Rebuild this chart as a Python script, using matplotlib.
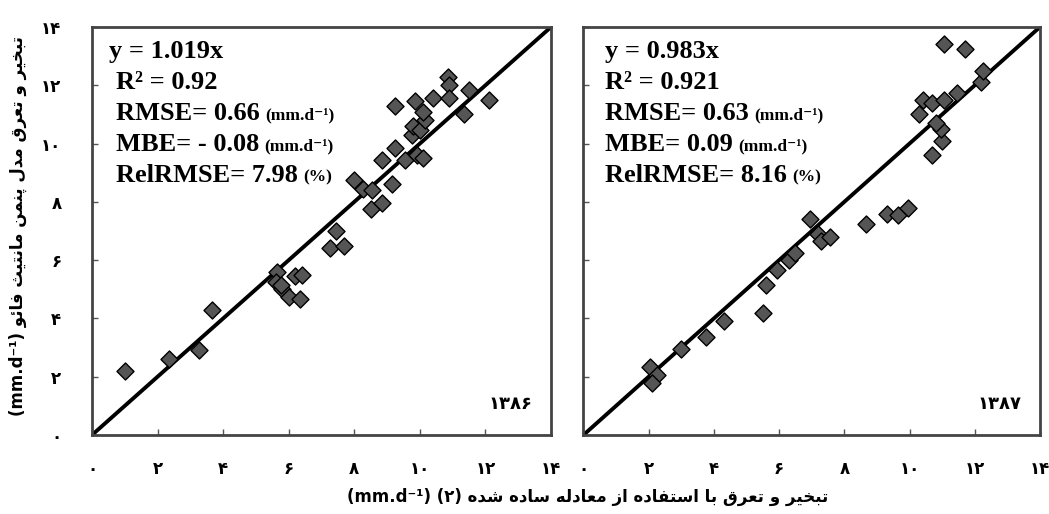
import matplotlib
matplotlib.use('Agg')
import matplotlib.pyplot as plt

# ET from simplified equation (x) vs FAO Penman-Monteith (y), mm/day
x86 = [1.0, 2.35, 3.25, 3.65, 5.65, 5.6, 5.8, 6.0, 6.2, 6.4, 6.35, 5.75,
       7.45, 7.25, 7.7, 8.5, 8.85, 8.0, 8.25, 8.55, 9.15, 8.85, 9.25, 9.55,
       9.9, 10.1, 9.75, 9.8, 10.0, 10.15, 10.1, 9.25, 9.85, 10.4, 10.85,
       10.9, 11.5, 12.1, 11.35, 10.9]
y86 = [2.2, 2.6, 2.9, 4.3, 5.6, 5.25, 5.0, 4.75, 5.45, 5.5, 4.65, 5.15,
       7.0, 6.4, 6.5, 7.75, 7.95, 8.75, 8.45, 8.4, 8.6, 9.45, 9.85, 9.45,
       9.6, 9.5, 10.3, 10.6, 10.45, 10.8, 11.1, 11.3, 11.45, 11.55, 12.3,
       12.0, 11.85, 11.5, 11.0, 11.55]

x87 = [2.05, 2.25, 2.1, 3.0, 3.75, 4.3, 5.5, 5.6, 5.95, 6.3, 6.5, 6.95,
       7.2, 7.3, 7.55, 8.65, 9.3, 9.65, 9.95, 10.7, 11.0, 10.95, 10.8, 10.3,
       10.4, 10.7, 11.05, 11.45, 12.2, 12.25, 11.05, 11.7]
y87 = [2.35, 2.05, 1.8, 2.95, 3.35, 3.9, 4.2, 5.15, 5.65, 6.0, 6.25, 7.4,
       6.9, 6.65, 6.8, 7.25, 7.6, 7.55, 7.8, 9.6, 10.1, 10.5, 10.7, 11.0,
       11.5, 11.4, 11.5, 11.75, 12.1, 12.5, 13.4, 13.25]

stats86 = ['y = 1.019x', 'R² = 0.92', 'RMSE= 0.66', 'MBE= - 0.08', 'RelRMSE= 7.98']
stats87 = ['y = 0.983x', 'R² = 0.921', 'RMSE= 0.63', 'MBE= 0.09', 'RelRMSE= 8.16']
units = ['', '', '(mm.d⁻¹)', '(mm.d⁻¹)', '(%)']
years = ['۱۳۸۶', '۱۳۸۷']
ticks = [0, 2, 4, 6, 8, 10, 12, 14]
tick_labels = ['۰', '۲', '۴', '۶', '۸', '۱۰', '۱۲', '۱۴']
xlabel_fa = 'تبخیر و تعرق با استفاده از معادله ساده شده'
ylabel_fa = 'تبخیر و تعرق مدل پنمن مانتیث فائو'

# first presentation form code and number of forms (iso, fin, ini, med)
forms = {'ا': (0xFE8D, 2), 'ب': (0xFE8F, 4), 'پ': (0xFB56, 4), 'ت': (0xFE95, 4),
         'ث': (0xFE99, 4), 'خ': (0xFEA5, 4), 'د': (0xFEA9, 2), 'ر': (0xFEAD, 2),
         'ز': (0xFEAF, 2), 'س': (0xFEB1, 4), 'ش': (0xFEB5, 4), 'ع': (0xFEC9, 4),
         'ف': (0xFED1, 4), 'ق': (0xFED5, 4), 'ل': (0xFEDD, 4), 'م': (0xFEE1, 4),
         'ن': (0xFEE5, 4), 'ه': (0xFEE9, 4), 'و': (0xFEED, 2), 'ی': (0xFBFC, 4),
         'ئ': (0xFE89, 4)}


def rtl(text):
    # join letters by hand and put them in visual order (no bidi in matplotlib)
    out = []
    for i, ch in enumerate(text):
        if ch not in forms:
            out.append(ch)
            continue
        prev = text[i - 1] if i > 0 else ''
        nxt = text[i + 1] if i < len(text) - 1 else ''
        jp = prev in forms and forms[prev][1] == 4
        jn = nxt in forms and forms[ch][1] == 4
        base = forms[ch][0]
        if jp and jn:
            out.append(chr(base + 3))
        elif jp:
            out.append(chr(base + 1))
        elif jn:
            out.append(chr(base + 2))
        else:
            out.append(chr(base))
    return ''.join(reversed(out))


fa = ['DejaVu Sans']
serif = ['Liberation Serif', 'DejaVu Serif']

fig = plt.figure(figsize=(10.49, 5.14), dpi=100)
ax1 = fig.add_axes([0.0877, 0.1537, 0.4376, 0.7938])
ax2 = fig.add_axes([0.5562, 0.1537, 0.4352, 0.7938])

panels = [(ax1, x86, y86, stats86, years[0], 0.037, 0.052),
          (ax2, x87, y87, stats87, years[1], 0.047, 0.047)]

for ax, xs, ys, stats, year, x0, x1 in panels:
    ax.plot([0, 14], [0, 14], color='black', lw=2.8, zorder=2)
    ax.scatter(xs, ys, marker='D', s=75, facecolor='#555555',
               edgecolor='black', linewidth=1.0, zorder=3)
    ax.set_xlim(0, 14)
    ax.set_ylim(0, 14)
    ax.set_xticks(ticks)
    ax.set_yticks(ticks)
    ax.set_xticklabels(tick_labels, family=fa, weight='bold', fontsize=12)
    ax.set_yticklabels(tick_labels, family=fa, weight='bold', fontsize=12)
    ax.tick_params(direction='in', length=4, width=1, color='#555555')
    ax.tick_params(axis='x', pad=18)
    ax.tick_params(axis='y', pad=22)
    for s in ax.spines.values():
        s.set_linewidth(2)
        s.set_color('#444444')

    ypos = [0.941, 0.864, 0.787, 0.711, 0.635]
    for i, (st, un) in enumerate(zip(stats, units)):
        t = ax.text(x0 if i == 0 else x1, ypos[i], st, transform=ax.transAxes,
                    family=serif, weight='bold', fontsize=19, va='center', ha='left')
        if un:
            ax.annotate(un, xy=(1, 0.42), xycoords=t, xytext=(4, 0),
                        textcoords='offset points', family=serif, weight='bold',
                        fontsize=12.5, va='center', ha='left')
    ax.text(0.96, 0.075, year, transform=ax.transAxes, family=fa, weight='bold',
            fontsize=13, ha='right', va='center')

ax2.tick_params(axis='y', labelleft=False)

fig.text(0.56, 0.033, '(mm.d⁻¹) (۲) ' + rtl(xlabel_fa), family=fa, weight='bold',
         fontsize=12, ha='center', va='center')
fig.text(0.017, 0.56, '(mm.d⁻¹) ' + rtl(ylabel_fa), family=fa, weight='bold',
         fontsize=12, ha='center', va='center', rotation=90)

fig.savefig('out.png', dpi=100)
